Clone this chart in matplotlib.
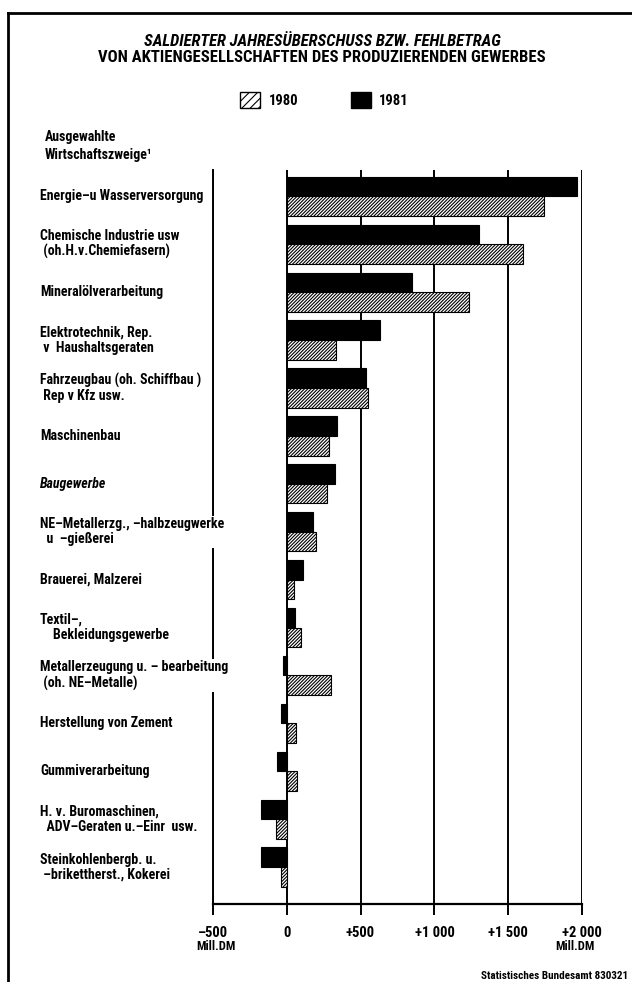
import matplotlib
matplotlib.use("Agg")
import matplotlib.pyplot as plt
import matplotlib.transforms as mtransforms
from matplotlib import font_manager
from matplotlib.patches import Patch
from matplotlib.lines import Line2D
import numpy as np

# Daten (Mill. DM)
branchen = [
    "Energie–u Wasserversorgung",
    "Chemische Industrie usw\n (oh.H.v.Chemiefasern)",
    "Mineralölverarbeitung",
    "Elektrotechnik, Rep.\n v  Haushaltsgeraten",
    "Fahrzeugbau (oh. Schiffbau )\n Rep v Kfz usw.",
    "Maschinenbau",
    "Baugewerbe",
    "NE–Metallerzg., –halbzeugwerke\n  u  –gießerei",
    "Brauerei, Malzerei",
    "Textil–,\n    Bekleidungsgewerbe",
    "Metallerzeugung u. – bearbeitung\n (oh. NE–Metalle)",
    "Herstellung von Zement",
    "Gummiverarbeitung",
    "H. v. Buromaschinen,\n  ADV–Geraten u.–Einr  usw.",
    "Steinkohlenbergb. u.\n –brikettherst., Kokerei",
]
werte_1981 = [1965, 1300, 845, 630, 540, 340, 330, 180, 110, 55, -25, -35, -65, -170, -175]
werte_1980 = [1740, 1600, 1235, 335, 550, 290, 270, 200, 50, 95, 300, 65, 70, -70, -40]
ticks = [-500, 0, 500, 1000, 1500, 2000]
tick_labels = ["–500", "0", "+500", "+1 000", "+1 500", "+2 000"]

names = {f.name for f in font_manager.fontManager.ttflist}
font = "DejaVu Sans"
for cand in ["Liberation Sans Narrow", "DejaVu Sans Condensed", "Roboto Condensed"]:
    if cand in names:
        font = cand
        break
plt.rcParams['font.family'] = [font, 'DejaVu Sans']
plt.rcParams['hatch.linewidth'] = 0.8

W, H = 632, 982
fig = plt.figure(figsize=(W / 100, H / 100), dpi=100)
ax = fig.add_axes([212.7 / W, 1 - 904 / H, (582.3 - 212.7) / W, (904 - 170) / H])

y = np.arange(len(branchen))
h = 0.41
ax.barh(y - h / 2, werte_1981, height=h, color="black", edgecolor="black", lw=0.8, zorder=3)
ax.barh(y + h / 2, werte_1980, height=h, color="white", edgecolor="black", hatch="//////////", lw=0.8, zorder=3)

ax.set_xlim(-500, 2000)
ax.set_ylim(14.77, -0.55)
ax.set_yticks([])
ax.set_xticks(ticks)
ax.set_xticklabels(tick_labels, fontsize=10.5, fontweight="bold")
ax.grid(axis="x", color="black", lw=1.4, zorder=1)
ax.tick_params(axis="x", length=8, width=1.4, direction="out", pad=8)
for s in ["top", "right"]:
    ax.spines[s].set_visible(False)
ax.spines["left"].set_linewidth(1.4)
ax.spines["bottom"].set_linewidth(1.6)

# Branchenbeschriftung links
trans = mtransforms.blended_transform_factory(fig.transFigure, ax.transData)
for i, name in enumerate(branchen):
    style = "italic" if name == "Baugewerbe" else "normal"
    ax.text(40 / W, i, name, transform=trans, ha="left", va="center", fontsize=10,
            fontweight="bold", fontstyle=style, linespacing=1.1, clip_on=False,
            bbox=dict(facecolor="white", edgecolor="none", pad=1))

# Titel
fig.text(322 / W, 1 - 42 / H, "SALDIERTER JAHRESÜBERSCHUSS BZW. FEHLBETRAG",
         ha="center", va="center", fontsize=12, fontweight="bold", fontstyle="italic")
fig.text(322 / W, 1 - 57 / H, "VON AKTIENGESELLSCHAFTEN DES PRODUZIERENDEN GEWERBES",
         ha="center", va="center", fontsize=12, fontweight="bold")

# Legende
fig.legend(handles=[Patch(facecolor="white", edgecolor="black", hatch="////")], labels=["1980"],
           loc="center left", bbox_to_anchor=(240 / W, 1 - 100 / H), frameon=False,
           borderpad=0, borderaxespad=0, handlelength=1.4, handleheight=1.3, handletextpad=0.6,
           prop=dict(size=10.5, weight="bold"))
fig.legend(handles=[Patch(facecolor="black", edgecolor="black")], labels=["1981"],
           loc="center left", bbox_to_anchor=(351 / W, 1 - 100 / H), frameon=False,
           borderpad=0, borderaxespad=0, handlelength=1.4, handleheight=1.3, handletextpad=0.5,
           prop=dict(size=10.5, weight="bold"))

fig.text(45 / W, 1 - 146 / H, "Ausgewahlte\nWirtschaftszweige¹", ha="left", va="center",
         fontsize=10, fontweight="bold", linespacing=1.3)

# Einheit und Quelle
fig.text(216 / W, 1 - 947 / H, "Mill.DM", ha="center", va="center", fontsize=9, fontweight="bold")
fig.text(575 / W, 1 - 947 / H, "Mill.DM", ha="center", va="center", fontsize=9, fontweight="bold")
fig.text(628 / W, 1 - 976 / H, "Statistisches Bundesamt 830321", ha="right", va="center",
         fontsize=8, fontweight="bold")

# Rahmen links und oben
fig.add_artist(Line2D([8 / W, 8 / W], [0, 1 - 13 / H], transform=fig.transFigure, color="black", lw=2))
fig.add_artist(Line2D([8 / W, 1], [1 - 13 / H, 1 - 13 / H], transform=fig.transFigure, color="black", lw=2))

fig.savefig("out.png", dpi=100)
